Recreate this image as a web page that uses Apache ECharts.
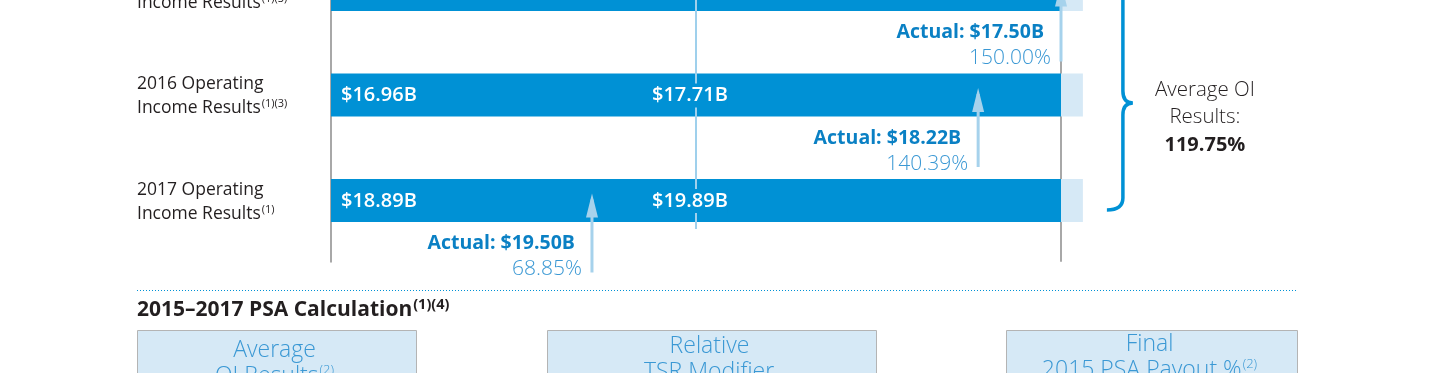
<!DOCTYPE html>
<html><head><meta charset="utf-8">
<script src="https://cdn.jsdelivr.net/npm/echarts@6/dist/echarts.min.js"></script>
<style>html,body{margin:0;padding:0;background:#fff}#c{width:1440px;height:373px}</style>
</head><body><div id="c"></div>
<script>
// ---- data ----
const rowLine1 = ['2015 Operating', '2016 Operating', '2017 Operating'];
const rowLine2 = ['Income Results', 'Income Results', 'Income Results'];
const rowNotes = ['(1)(3)', '(1)(3)', '(1)'];
const thresholdLabels = ['', '$16.96B', '$18.89B'];
const targetLabels = ['', '$17.71B', '$19.89B'];
const actualLabels = ['Actual: $17.50B', 'Actual: $18.22B', 'Actual: $19.50B'];
const payoutLabels = ['150.00%', '140.39%', '68.85%'];
// position of actual result on the payout scale (0 = threshold, 100 = target, 200 = maximum)
const actualPos = [200, 177.3, 71.5];
const thresholdPos = 0, targetPos = 100, maxPos = 200, scaleEnd = 206;
const averageLines = ['Average OI', 'Results:'];
const averageValue = '119.75%';
const calcTitle = '2015\u20132017 PSA Calculation';
const calcNotes = '(1)(4)';
const boxLine1 = ['Average', 'Relative', 'Final'];
const boxLine2 = ['OI Results', 'TSR Modifier', '2015 PSA Payout %'];
const boxNotes = ['(2)', '', '(2)'];

// ---- style ----
const FONT = '"Open Sans", "Noto Sans", sans-serif';
const BLUE = '#0091d5';
const LIGHT = '#d6e9f6';
const ARROW = '#a6d2ec';
const GRAY = '#a8a8a8';
const TEXT = '#231f20';
const ACT = '#0a80c4';
const PCT = '#3a98d4';
const BAR_H = 43;
const ROW_PX = 105.5;
const Y_MIN = 10.5 / ROW_PX, Y_MAX = 2.58, TARGET_END = 2.27;

const chart = echarts.init(document.getElementById('c'), null, {renderer: 'canvas'});
const rows = rowLine1.map((_, i) => [actualPos[i], i]);

function txt(x, y, text, o) {
  return {type: 'text', x: x, y: y, style: Object.assign({
    text: text, fill: TEXT, fontFamily: FONT, fontSize: 18,
    align: 'left', verticalAlign: 'middle', textAlign: 'left', textVerticalAlign: 'middle'
  }, o || {})};
}

const option = {
  animation: false,
  grid: {left: 331, width: 3.65 * scaleEnd, top: 0, height: ROW_PX * (Y_MAX - Y_MIN), containLabel: false, outerBoundsMode: 'none'},
  xAxis: {type: 'value', min: thresholdPos, max: scaleEnd, show: false},
  yAxis: {type: 'value', inverse: true, min: Y_MIN, max: Y_MAX,
    axisLine: {show: true, onZero: false, lineStyle: {color: GRAY, width: 2}},
    axisTick: {show: false}, axisLabel: {show: false}, splitLine: {show: false}},
  series: [
    { // maximum reference line (under bars)
      type: 'custom', z: 1, data: [[maxPos, 0]], silent: true,
      renderItem: function (p, api) {
        const a = api.coord([api.value(0), Y_MIN]), b = api.coord([api.value(0), Y_MAX]);
        return {type: 'line', shape: {x1: a[0], y1: a[1], x2: b[0], y2: b[1]}, style: {stroke: GRAY, lineWidth: 2}};
      }
    },
    { // bars
      type: 'custom', z: 2, data: rows, silent: true,
      renderItem: function (p, api) {
        const i = api.value(1);
        const a = api.coord([thresholdPos, i]), m = api.coord([maxPos, i]), e = api.coord([scaleEnd, i]);
        return {type: 'group', children: [
          {type: 'rect', shape: {x: m[0], y: a[1] - BAR_H / 2, width: e[0] - m[0], height: BAR_H}, style: {fill: LIGHT}},
          {type: 'rect', shape: {x: a[0], y: a[1] - BAR_H / 2, width: m[0] - a[0], height: BAR_H}, style: {fill: BLUE}}
        ]};
      }
    },
    { // target line
      type: 'custom', z: 3, data: [[targetPos, 0]], silent: true,
      renderItem: function (p, api) {
        const a = api.coord([api.value(0), Y_MIN]), b = api.coord([api.value(0), TARGET_END]);
        return {type: 'line', shape: {x1: a[0], y1: a[1], x2: b[0], y2: b[1]}, style: {stroke: '#9fd0ec', lineWidth: 2}};
      }
    },
    { // labels, arrows
      type: 'custom', z: 4, data: rows, silent: true,
      renderItem: function (p, api) {
        const i = api.value(1);
        const c = api.coord([thresholdPos, i]);
        const t = api.coord([targetPos, i]);
        const ax = api.coord([api.value(0), i])[0];
        const cy = c[1];
        const ch = [];
        ch.push({type: 'text', x: 137, y: cy + 1.5, style: {
          text: '{n|' + rowLine1[i] + '}\n{n|' + rowLine2[i] + '}{s|' + rowNotes[i] + '}',
          fill: TEXT, fontFamily: FONT, fontSize: 17.5, align: 'left', verticalAlign: 'middle',
          textAlign: 'left', textVerticalAlign: 'middle',
          rich: {n: {fontFamily: FONT, fontSize: 17.5, lineHeight: 24, fill: TEXT, color: TEXT},
                 s: {fontFamily: FONT, fontSize: 11, lineHeight: 24, fill: TEXT, color: TEXT, verticalAlign: 'top', padding: [2, 0, 0, 1]}}
        }});
        if (thresholdLabels[i]) ch.push(txt(c[0] + 10, cy + 0.5, thresholdLabels[i], {fill: '#fff', fontWeight: 600, fontSize: 20}));
        if (targetLabels[i]) ch.push(txt(t[0] - 44, cy + 0.5, targetLabels[i], {fill: '#fff', fontWeight: 600, fontSize: 20, backgroundColor: BLUE, padding: [2, 0]}));
        ch.push({type: 'line', shape: {x1: ax, y1: cy + 72, x2: ax, y2: cy - 1}, style: {stroke: ARROW, lineWidth: 3}});
        ch.push({type: 'polygon', shape: {points: [[ax, cy - 7], [ax - 6, cy + 17], [ax + 6, cy + 17]]}, style: {fill: ARROW}});
        ch.push(txt(ax - 17, cy + 43, actualLabels[i], {fill: ACT, fontWeight: 700, fontSize: 19.5, align: 'right', textAlign: 'right'}));
        ch.push(txt(ax - 10, cy + 69, payoutLabels[i], {fill: PCT, fontWeight: 300, fontSize: 21, align: 'right', textAlign: 'right'}));
        return {type: 'group', children: ch};
      }
    },
    { // brace + average
      type: 'custom', z: 4, data: [[scaleEnd, 0]], silent: true,
      renderItem: function (p, api) {
        const e = api.coord([scaleEnd, 0]);
        const yTop = e[1] - 6, yMid = api.coord([scaleEnd, 1])[1] + 8, yBot = api.coord([scaleEnd, 2])[1] + 9.5;
        const x = e[0] + 40;
        const path = 'M' + (x - 16) + ' ' + yTop + ' Q' + x + ' ' + yTop + ' ' + x + ' ' + (yTop + 12) +
          ' L' + x + ' ' + (yMid - 12) + ' Q' + x + ' ' + yMid + ' ' + (x + 10) + ' ' + yMid +
          ' Q' + x + ' ' + yMid + ' ' + x + ' ' + (yMid + 12) +
          ' L' + x + ' ' + (yBot - 12) + ' Q' + x + ' ' + yBot + ' ' + (x - 16) + ' ' + yBot;
        const cx = e[0] + 122;
        return {type: 'group', children: [
          {type: 'path', shape: {pathData: path}, style: {fill: null, stroke: BLUE, lineWidth: 3.5}},
          txt(cx, yMid - 13, averageLines[0], {fontWeight: 300, fontSize: 20.5, align: 'center', textAlign: 'center'}),
          txt(cx, yMid + 14, averageLines[1], {fontWeight: 300, fontSize: 20.5, align: 'center', textAlign: 'center'}),
          txt(cx, yMid + 42, averageValue, {fontWeight: 700, fontSize: 20, align: 'center', textAlign: 'center'})
        ]};
      }
    }
  ],
  graphic: [
    {type: 'line', shape: {x1: 137, y1: 290.5, x2: 1297, y2: 290.5}, style: {stroke: BLUE, lineWidth: 1, lineDash: [1, 2]}},
    {type: 'text', x: 137, y: 310, style: {
      text: '{t|' + calcTitle + '}{s|' + calcNotes + '}', align: 'left', verticalAlign: 'middle', textAlign: 'left', textVerticalAlign: 'middle',
      rich: {t: {fontFamily: FONT, fontSize: 21, fontWeight: 700, lineHeight: 26, fill: TEXT, color: TEXT},
             s: {fontFamily: FONT, fontSize: 14.5, fontWeight: 700, lineHeight: 26, fill: TEXT, color: TEXT, verticalAlign: 'top', padding: [0, 0, 0, 1]}}
    }}
  ].concat([[137, 416], [547, 876], [1006, 1297]].map(function (b, i) {
    return {type: 'group', children: [
      {type: 'rect', shape: {x: b[0] + 0.5, y: 330.5, width: b[1] - b[0], height: 80}, style: {fill: LIGHT, stroke: '#b4b4b4', lineWidth: 1}},
      {type: 'text', x: (b[0] + b[1]) / 2 - 2, y: [350, 346, 344][i] - 13, style: {
        text: '{n|' + boxLine1[i] + '}\n{n|' + boxLine2[i] + '}{s|' + boxNotes[i] + '}',
        align: 'center', verticalAlign: 'top', textAlign: 'center', textVerticalAlign: 'top',
        rich: {n: {fontFamily: FONT, fontSize: 23, fontWeight: 300, lineHeight: 26, fill: PCT, color: PCT},
               s: {fontFamily: FONT, fontSize: 13, fontWeight: 300, lineHeight: 26, fill: PCT, color: PCT, verticalAlign: 'top', padding: [1, 0, 0, 1]}}
      }}
    ]};
  }))
};
chart.setOption(option);
</script>
</body></html>
